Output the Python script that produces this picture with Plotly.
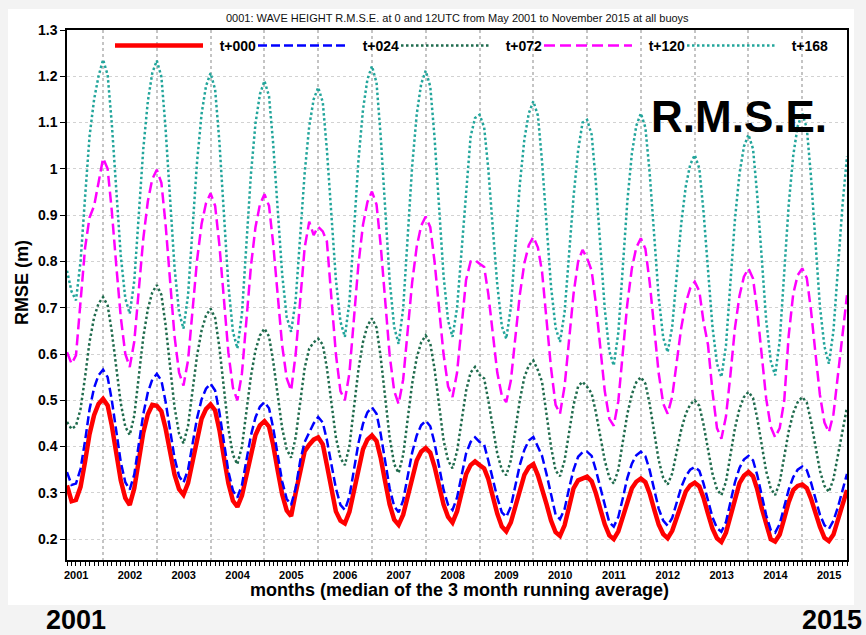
import pandas as pd
import plotly.graph_objects as go

# ---------------- data (monthly, May 2001 .. Nov 2015) ----------------
month_start = "2001-05-01"
month_end = "2015-11-01"

t000 = [
    0.316, 0.282, 0.285, 0.313, 0.368, 0.427, 0.468, 0.492,                      # 2001 May-Dec
    0.503, 0.489, 0.446, 0.384, 0.327, 0.289, 0.274, 0.310, 0.370, 0.430, 0.470, 0.490,  # 2002
    0.488, 0.476, 0.440, 0.388, 0.340, 0.308, 0.296, 0.321, 0.370, 0.423, 0.460, 0.481,  # 2003
    0.491, 0.478, 0.436, 0.376, 0.321, 0.283, 0.270, 0.294, 0.340, 0.390, 0.425, 0.446,  # 2004
    0.455, 0.443, 0.404, 0.348, 0.297, 0.262, 0.250, 0.300, 0.350, 0.390, 0.404, 0.415,  # 2005
    0.420, 0.405, 0.360, 0.310, 0.260, 0.240, 0.234, 0.259, 0.306, 0.358, 0.394, 0.415,  # 2006
    0.424, 0.412, 0.376, 0.324, 0.275, 0.242, 0.231, 0.253, 0.294, 0.339, 0.370, 0.389,  # 2007
    0.397, 0.387, 0.357, 0.315, 0.275, 0.248, 0.236, 0.260, 0.300, 0.340, 0.360, 0.368,  # 2008
    0.360, 0.353, 0.330, 0.290, 0.255, 0.227, 0.217, 0.236, 0.272, 0.311, 0.339, 0.355,  # 2009
    0.362, 0.338, 0.310, 0.275, 0.240, 0.215, 0.207, 0.230, 0.270, 0.310, 0.327, 0.330,  # 2010
    0.335, 0.325, 0.300, 0.265, 0.232, 0.208, 0.200, 0.217, 0.250, 0.285, 0.310, 0.324,  # 2011
    0.331, 0.323, 0.299, 0.264, 0.232, 0.211, 0.202, 0.218, 0.248, 0.280, 0.303, 0.316,  # 2012
    0.322, 0.314, 0.290, 0.255, 0.223, 0.202, 0.194, 0.214, 0.251, 0.292, 0.321, 0.337,  # 2013
    0.345, 0.336, 0.308, 0.267, 0.230, 0.200, 0.195, 0.210, 0.245, 0.280, 0.306, 0.315,  # 2014
    0.318, 0.310, 0.288, 0.256, 0.227, 0.203, 0.196, 0.210, 0.240, 0.275, 0.306,         # 2015 Jan-Nov
]

t024 = [
    0.345, 0.317, 0.320, 0.352, 0.413, 0.480, 0.527, 0.554,
    0.566, 0.550, 0.501, 0.431, 0.367, 0.323, 0.307, 0.340, 0.402, 0.470, 0.517, 0.545,
    0.557, 0.543, 0.498, 0.435, 0.376, 0.336, 0.322, 0.350, 0.403, 0.461, 0.502, 0.525,
    0.536, 0.521, 0.474, 0.408, 0.346, 0.305, 0.290, 0.317, 0.368, 0.424, 0.463, 0.486,
    0.496, 0.483, 0.441, 0.381, 0.325, 0.287, 0.274, 0.310, 0.370, 0.410, 0.430, 0.450,
    0.464, 0.452, 0.414, 0.360, 0.310, 0.274, 0.263, 0.292, 0.347, 0.407, 0.449, 0.474,
    0.485, 0.471, 0.428, 0.367, 0.310, 0.271, 0.258, 0.284, 0.333, 0.387, 0.424, 0.446,
    0.456, 0.444, 0.408, 0.356, 0.307, 0.274, 0.263, 0.290, 0.340, 0.385, 0.410, 0.420,
    0.410, 0.404, 0.370, 0.330, 0.290, 0.258, 0.248, 0.270, 0.314, 0.360, 0.393, 0.413,
    0.421, 0.400, 0.380, 0.340, 0.300, 0.253, 0.243, 0.265, 0.310, 0.350, 0.378, 0.388,
    0.389, 0.380, 0.350, 0.310, 0.270, 0.236, 0.227, 0.248, 0.289, 0.332, 0.363, 0.381,
    0.389, 0.379, 0.349, 0.306, 0.266, 0.240, 0.229, 0.246, 0.277, 0.312, 0.336, 0.350,
    0.356, 0.348, 0.321, 0.283, 0.248, 0.224, 0.216, 0.237, 0.278, 0.323, 0.354, 0.372,
    0.380, 0.370, 0.339, 0.294, 0.252, 0.220, 0.214, 0.233, 0.268, 0.307, 0.334, 0.350,
    0.357, 0.349, 0.323, 0.287, 0.253, 0.230, 0.222, 0.240, 0.270, 0.305, 0.341,
]

t072 = [
    0.453, 0.438, 0.445, 0.481, 0.551, 0.626, 0.679, 0.709,
    0.723, 0.705, 0.649, 0.568, 0.494, 0.443, 0.425, 0.467, 0.548, 0.636, 0.697, 0.733,
    0.749, 0.728, 0.664, 0.571, 0.486, 0.428, 0.407, 0.445, 0.518, 0.596, 0.651, 0.683,
    0.698, 0.678, 0.614, 0.523, 0.439, 0.382, 0.362, 0.400, 0.473, 0.552, 0.608, 0.640,
    0.655, 0.638, 0.585, 0.510, 0.440, 0.394, 0.376, 0.420, 0.500, 0.570, 0.612, 0.625,
    0.633, 0.620, 0.570, 0.490, 0.420, 0.375, 0.360, 0.401, 0.480, 0.566, 0.626, 0.661,
    0.677, 0.657, 0.594, 0.503, 0.420, 0.362, 0.343, 0.382, 0.456, 0.536, 0.592, 0.625,
    0.640, 0.623, 0.568, 0.491, 0.414, 0.370, 0.353, 0.390, 0.460, 0.520, 0.560, 0.572,
    0.555, 0.547, 0.500, 0.440, 0.385, 0.350, 0.338, 0.370, 0.432, 0.500, 0.550, 0.575,
    0.586, 0.565, 0.540, 0.470, 0.400, 0.348, 0.336, 0.370, 0.430, 0.490, 0.530, 0.540,
    0.529, 0.515, 0.475, 0.420, 0.370, 0.333, 0.320, 0.350, 0.407, 0.470, 0.513, 0.539,
    0.550, 0.536, 0.492, 0.429, 0.371, 0.332, 0.318, 0.342, 0.387, 0.436, 0.471, 0.491,
    0.500, 0.488, 0.449, 0.393, 0.342, 0.308, 0.295, 0.324, 0.380, 0.440, 0.482, 0.507,
    0.518, 0.505, 0.462, 0.402, 0.347, 0.310, 0.295, 0.323, 0.376, 0.433, 0.473, 0.496,
    0.507, 0.495, 0.456, 0.400, 0.348, 0.315, 0.302, 0.330, 0.380, 0.435, 0.485,
]

t120 = [
    0.604, 0.579, 0.597, 0.720, 0.830, 0.895, 0.920, 0.970,
    1.023, 1.000, 0.910, 0.790, 0.680, 0.600, 0.572, 0.627, 0.734, 0.849, 0.930, 0.978,
    0.998, 0.970, 0.882, 0.756, 0.639, 0.560, 0.532, 0.586, 0.690, 0.802, 0.881, 0.926,
    0.947, 0.920, 0.835, 0.715, 0.603, 0.527, 0.500, 0.558, 0.669, 0.789, 0.874, 0.923,
    0.945, 0.920, 0.839, 0.725, 0.619, 0.548, 0.521, 0.600, 0.720, 0.830, 0.886, 0.857,
    0.875, 0.865, 0.843, 0.720, 0.600, 0.520, 0.500, 0.559, 0.671, 0.793, 0.879, 0.928,
    0.951, 0.923, 0.836, 0.712, 0.598, 0.520, 0.492, 0.545, 0.646, 0.755, 0.832, 0.877,
    0.897, 0.874, 0.800, 0.694, 0.600, 0.530, 0.507, 0.560, 0.660, 0.760, 0.800, 0.803,
    0.795, 0.788, 0.730, 0.640, 0.560, 0.510, 0.496, 0.542, 0.632, 0.728, 0.796, 0.835,
    0.853, 0.830, 0.778, 0.680, 0.570, 0.490, 0.471, 0.530, 0.630, 0.730, 0.800, 0.825,
    0.807, 0.780, 0.710, 0.610, 0.520, 0.460, 0.445, 0.498, 0.599, 0.708, 0.785, 0.830,
    0.850, 0.827, 0.755, 0.653, 0.559, 0.493, 0.471, 0.508, 0.579, 0.656, 0.710, 0.742,
    0.756, 0.736, 0.671, 0.620, 0.520, 0.440, 0.417, 0.465, 0.557, 0.656, 0.726, 0.767,
    0.785, 0.763, 0.694, 0.595, 0.504, 0.443, 0.420, 0.440, 0.500, 0.640, 0.730, 0.770,
    0.785, 0.764, 0.696, 0.601, 0.512, 0.452, 0.431, 0.470, 0.550, 0.640, 0.727,
]

t168 = [
    0.780, 0.735, 0.716, 0.800, 0.940, 1.070, 1.150, 1.200,
    1.236, 1.203, 1.099, 0.951, 0.813, 0.720, 0.687, 0.758, 0.895, 1.043, 1.146, 1.207,
    1.234, 1.199, 1.089, 0.933, 0.788, 0.690, 0.655, 0.727, 0.865, 1.014, 1.119, 1.179,
    1.207, 1.171, 1.058, 0.898, 0.749, 0.648, 0.612, 0.687, 0.832, 0.988, 1.098, 1.161,
    1.190, 1.157, 1.055, 0.908, 0.773, 0.680, 0.648, 0.717, 0.849, 0.991, 1.092, 1.150,
    1.176, 1.144, 1.041, 0.896, 0.761, 0.670, 0.637, 0.713, 0.859, 1.017, 1.128, 1.193,
    1.222, 1.186, 1.072, 0.910, 0.760, 0.658, 0.622, 0.699, 0.846, 1.006, 1.118, 1.183,
    1.212, 1.178, 1.068, 0.913, 0.770, 0.672, 0.637, 0.700, 0.820, 0.950, 1.070, 1.110,
    1.117, 1.090, 1.000, 0.870, 0.750, 0.660, 0.633, 0.700, 0.828, 0.966, 1.064, 1.120,
    1.146, 1.115, 1.016, 0.876, 0.746, 0.657, 0.626, 0.690, 0.810, 0.940, 1.040, 1.100,
    1.106, 1.074, 0.973, 0.830, 0.697, 0.606, 0.575, 0.646, 0.782, 0.929, 1.033, 1.093,
    1.120, 1.089, 0.991, 0.852, 0.723, 0.635, 0.604, 0.659, 0.766, 0.881, 0.962, 1.009,
    1.030, 1.001, 0.910, 0.780, 0.660, 0.579, 0.550, 0.618, 0.749, 0.891, 0.990, 1.048,
    1.074, 1.043, 0.944, 0.804, 0.674, 0.585, 0.554, 0.628, 0.769, 0.922, 1.029, 1.092,
    1.120, 1.088, 0.985, 0.839, 0.703, 0.616, 0.579, 0.650, 0.780, 0.920, 1.027,
]

series_names = ["t+000", "t+024", "t+072", "t+120", "t+168"]
series_values = [t000, t024, t072, t120, t168]

title_text = "0001: WAVE HEIGHT R.M.S.E. at 0 and 12UTC from May 2001 to November 2015 at all buoys"
x_title = "months (median of the 3 month running average)"
y_title = "RMSE (m)"

months = pd.date_range(month_start, month_end, freq="MS")
for v in series_values:
    assert len(v) == len(months), (len(v), len(months))

# ---------------- styles ----------------
styles = [
    dict(color="#ff0000", width=4.5, dash="solid"),
    dict(color="#0000ff", width=2.5, dash="9px,4px"),
    dict(color="#1f6b4d", width=2.5, dash="2.5px,2.5px"),
    dict(color="#ff00ff", width=2.5, dash="11px,5px"),
    dict(color="#22a59b", width=2.5, dash="2.5px,2.5px"),
]
legend_widths = [40, 40, 40, 40, 60]

FONT = "Liberation Sans, Arial, Helvetica, sans-serif"

fig = go.Figure()
for name, vals, st, lw in zip(series_names, series_values, styles, legend_widths):
    fig.add_trace(go.Scatter(
        x=months, y=vals, mode="lines", name="\u00a0\u00a0\u00a0" + name,
        line=dict(color=st["color"], width=st["width"], dash=st["dash"]),
        legendwidth=lw, hoverinfo="skip",
    ))

L, R, T, B = 67, 19, 30, 75
W, H = 866, 635
pw, ph = W - L - R, H - T - B


def px_x(x):
    return (x - L) / pw


def px_y(y):
    return (H - B - y) / ph


fig.update_layout(
    width=W, height=H,
    margin=dict(l=L, r=R, t=T, b=B, pad=0, autoexpand=False),
    paper_bgcolor="#f3f3f3",
    plot_bgcolor="white",
    font=dict(family=FONT, color="black"),
    showlegend=True,
    legend=dict(
        orientation="h", x=px_x(110), y=1.0, xanchor="left", yanchor="top",
        itemwidth=88, entrywidthmode="pixels",
        font=dict(size=14, weight="bold", family=FONT),
        bgcolor="rgba(0,0,0,0)", traceorder="normal",
    ),
    xaxis=dict(
        type="date", range=[month_start, month_end],
        tick0="2001-01-01", dtick="M12", tickformat="%Y", ticklabelmode="period",
        ticks="outside", ticklen=4, tickcolor="black", tickwidth=1,
        tickfont=dict(size=11, weight="bold", family=FONT),
        showgrid=True, gridcolor="#c4c4c4", griddash="dot", gridwidth=1.5,
        showline=True, linecolor="black", linewidth=1.5, mirror=True,
        minor=dict(dtick="M1", ticks="outside", ticklen=4, tickcolor="black", showgrid=False),
        automargin=False,
    ),
    yaxis=dict(
        range=[0.155, 1.3], tick0=0, dtick=0.1,
        ticks="outside", ticklen=5, tickcolor="black",
        tickfont=dict(size=14, weight="bold", family=FONT),
        showgrid=True, gridcolor="#d2d2d2", griddash="dot", gridwidth=1,
        showline=True, linecolor="black", linewidth=1.5, mirror=True,
        zeroline=False, automargin=False,
    ),
    shapes=[dict(
        type="rect", xref="paper", yref="paper", layer="below",
        x0=px_x(8), x1=px_x(854), y0=px_y(605), y1=px_y(9),
        fillcolor="white", line=dict(width=0),
    )],
    annotations=[
        dict(text=title_text, xref="paper", yref="paper", x=px_x(457), y=px_y(18),
             showarrow=False, xanchor="center", yanchor="middle",
             font=dict(size=11, family=FONT, color="#111")),
        dict(text=y_title, xref="paper", yref="paper", x=px_x(22), y=px_y(283),
             showarrow=False, textangle=-90, xanchor="center", yanchor="middle",
             font=dict(size=18, weight="bold", family=FONT)),
        dict(text=x_title, xref="paper", yref="paper", x=px_x(459), y=px_y(590),
             showarrow=False, xanchor="center", yanchor="middle",
             font=dict(size=18, weight="bold", family=FONT)),
        dict(text="R.M.S.E.", xref="paper", yref="paper", x=px_x(739), y=px_y(117),
             showarrow=False, xanchor="center", yanchor="middle",
             font=dict(size=44, weight="bold", family=FONT)),
        dict(text="2001", xref="paper", yref="paper", x=px_x(75.5), y=px_y(620),
             showarrow=False, xanchor="center", yanchor="middle",
             font=dict(size=27, weight="bold", family=FONT)),
        dict(text="2015", xref="paper", yref="paper", x=px_x(831.5), y=px_y(620),
             showarrow=False, xanchor="center", yanchor="middle",
             font=dict(size=27, weight="bold", family=FONT)),
    ],
)

fig.write_html(
    "out.html",
    config={"displayModeBar": False},
    post_script="document.body.style.margin='0';document.body.style.padding='0';"
                "document.documentElement.style.overflow='hidden';",
)
